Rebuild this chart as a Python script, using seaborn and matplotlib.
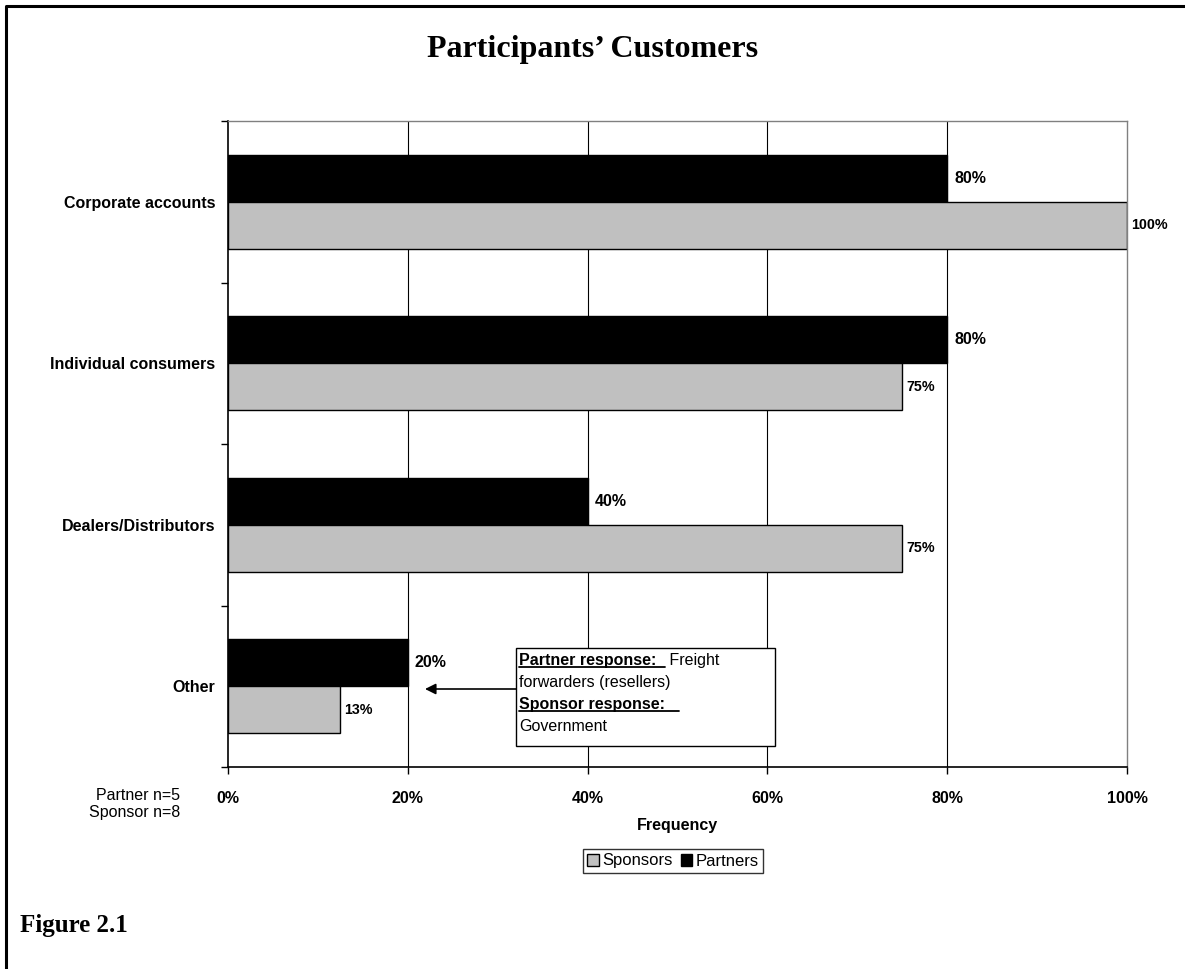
import matplotlib
matplotlib.use("Agg")
import matplotlib.pyplot as plt
import matplotlib.ticker as mticker
from matplotlib.lines import Line2D
from matplotlib.patches import Rectangle
import seaborn as sns
import pandas as pd
import math

# ---- data -------------------------------------------------------------
categories = ["Corporate accounts", "Individual consumers",
              "Dealers/Distributors", "Other"]
partners = [80, 80, 40, 20]        # percent of partner respondents (n=5)
sponsors = [100, 75, 75, 12.5]     # percent of sponsor respondents (n=8)
x_ticks = [0, 20, 40, 60, 80, 100]
groups = ["Partners", "Sponsors"]
group_colors = {"Partners": "#000000", "Sponsors": "#C0C0C0"}

df = pd.DataFrame({
    "Category": categories * 2,
    "Group": ["Partners"] * len(categories) + ["Sponsors"] * len(categories),
    "Value": partners + sponsors,
})

SANS = "Liberation Sans"
SERIF = "Liberation Serif"

sns.set_theme(style="white")
plt.rcParams["font.family"] = [SANS, "DejaVu Sans"]
for key in ["text.color", "axes.labelcolor", "xtick.color", "ytick.color"]:
    plt.rcParams[key] = "black"

W, H = 1185, 969
fig = plt.figure(figsize=(W / 100, H / 100), dpi=100)
fig.patch.set_facecolor("white")


def fx(px):
    return px / W


def fy(py):
    return 1 - py / H


ax = fig.add_axes([fx(228), fy(767), fx(1127) - fx(228), fy(121) - fy(767)])

sns.barplot(data=df, y="Category", x="Value", hue="Group",
            hue_order=groups, order=categories, orient="h",
            palette=group_colors, width=0.58, gap=0,
            edgecolor="black", linewidth=1.0, saturation=1,
            legend=False, ax=ax)

ax.set_xlim(0, 100)
ax.set_ylim(len(categories) - 0.5, -0.5)

# vertical gridlines
for v in x_ticks[1:-1]:
    ax.axvline(v, color="black", lw=0.8, zorder=0)

# spines
for side in ["left", "bottom"]:
    ax.spines[side].set_color("black")
    ax.spines[side].set_linewidth(1.2)
for side in ["top", "right"]:
    ax.spines[side].set_color("#808080")
    ax.spines[side].set_linewidth(1.0)

# x axis
ax.set_xticks(x_ticks)
ax.xaxis.set_major_formatter(mticker.FuncFormatter(lambda v, p: f"{v:.0f}%"))
ax.tick_params(axis="x", direction="out", length=5, width=1, color="black",
               bottom=True, pad=12, labelsize=11.5, labelcolor="black")
for lab in ax.get_xticklabels():
    lab.set_fontweight("bold")
ax.set_xlabel("Frequency", fontsize=11.5, fontweight="bold", labelpad=9,
              color="black")

# y axis: labels at the centres, tick marks at the category boundaries
ax.set_yticks(range(len(categories)))
ax.set_yticklabels(categories, fontsize=11.5, fontweight="bold")
ax.set_yticks([i - 0.5 for i in range(len(categories) + 1)], minor=True)
ax.tick_params(axis="y", which="major", length=0, pad=9, left=True,
               labelcolor="black")
ax.tick_params(axis="y", which="minor", direction="out", length=5, width=1,
               color="black", left=True)
ax.set_ylabel("")


def pct(v):
    return f"{math.floor(v + 0.5)}%"


# value labels
half = 0.58 / 4
for i, (p, s) in enumerate(zip(partners, sponsors)):
    ax.annotate(pct(p), (p, i - half), xytext=(5, 0), textcoords="offset points",
                ha="left", va="center", fontsize=11.5, fontweight="bold",
                color="black")
    ax.annotate(pct(s), (s, i + half), xytext=(3, 0), textcoords="offset points",
                ha="left", va="center", fontsize=10.3, fontweight="bold",
                color="black", annotation_clip=False)

# title and captions
fig.text(0.5, fy(57), "Participants\u2019 Customers", ha="center", va="baseline",
         family=SERIF, fontsize=23, fontweight="bold", color="black")
fig.text(fx(20), fy(932), "Figure 2.1", ha="left", va="baseline",
         family=SERIF, fontsize=18, fontweight="bold", color="black")
fig.text(fx(180), fy(796), "Partner n=5", ha="right", va="center",
         fontsize=11.5, color="black")
fig.text(fx(180), fy(813), "Sponsor n=8", ha="right", va="center",
         fontsize=11.5, color="black")

# legend
handles = [Rectangle((0, 0), 1, 1, facecolor=group_colors[g], edgecolor="black",
                     lw=1) for g in ["Sponsors", "Partners"]]
leg = fig.legend(handles, ["Sponsors", "Partners"], loc="center",
                 bbox_to_anchor=(fx(673), fy(861)), ncol=2, frameon=True,
                 fancybox=False, fontsize=12, handlelength=0.7,
                 handleheight=0.7, handletextpad=0.2, columnspacing=0.5,
                 borderpad=0.25, borderaxespad=0)
leg.get_frame().set_edgecolor("black")
leg.get_frame().set_linewidth(1.0)
for t in leg.get_texts():
    t.set_color("black")

# callout box describing the "Other" responses
box = Rectangle((fx(516), fy(746)), fx(775) - fx(516), fy(648) - fy(746),
                transform=fig.transFigure, facecolor="white", edgecolor="black",
                lw=1.0, zorder=5)
fig.add_artist(box)
ax.annotate("", xy=(425, H - 689), xycoords="figure pixels",
            xytext=(516, H - 689), textcoords="figure pixels",
            arrowprops=dict(arrowstyle="-|>", color="black", lw=1.2,
                            mutation_scale=16, shrinkA=0, shrinkB=0))

renderer = fig.canvas.get_renderer()
tx = fx(519)
fs = 11.5


def underlined(x, y_px, s):
    t = fig.text(x, fy(y_px), s, ha="left", va="baseline", fontsize=fs,
                 fontweight="bold", color="black", zorder=6)
    bb = t.get_window_extent(renderer)
    fig.add_artist(Line2D([bb.x0 / W, bb.x1 / W],
                          [fy(y_px + 2), fy(y_px + 2)],
                          transform=fig.transFigure, color="black", lw=1.3,
                          zorder=6))
    return bb


bb = underlined(tx, 665, "Partner response:  ")
fig.text(bb.x1 / W, fy(665), " Freight", ha="left", va="baseline",
         fontsize=fs, color="black", zorder=6)
fig.text(tx, fy(687), "forwarders (resellers)", ha="left", va="baseline",
         fontsize=fs, color="black", zorder=6)
underlined(tx, 709, "Sponsor response:   ")
fig.text(tx, fy(731), "Government", ha="left", va="baseline",
         fontsize=fs, color="black", zorder=6)

# page frame (left and top edges)
fig.add_artist(Line2D([fx(6), fx(6), 1], [0, fy(6), fy(6)],
                      transform=fig.transFigure, color="black", lw=2.2))

fig.savefig("out.png", dpi=100, facecolor="white")
